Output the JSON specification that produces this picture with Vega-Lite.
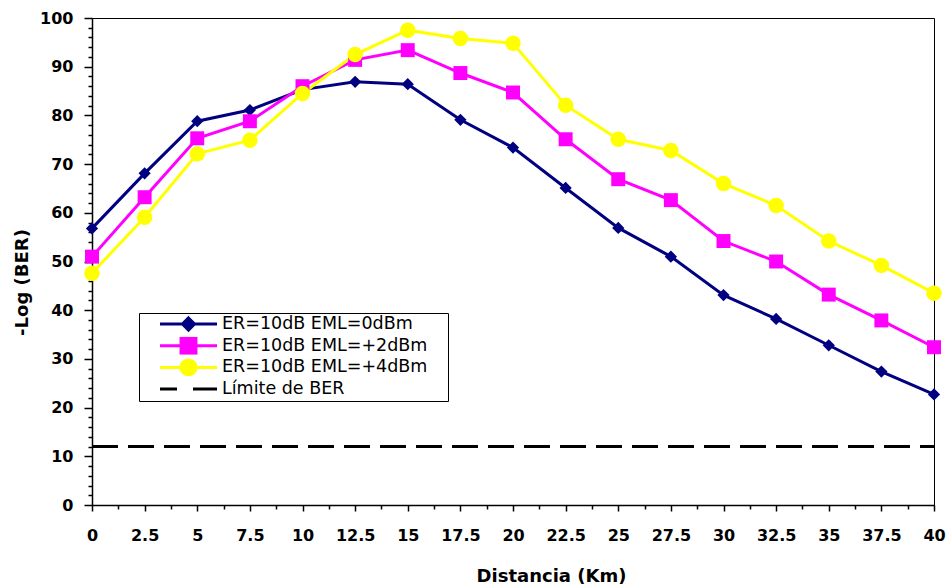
{
  "$schema": "https://vega.github.io/schema/vega-lite/v6.json",
  "width": 842,
  "height": 487,
  "autosize": {"type": "none"},
  "padding": {"left": 92, "top": 18, "right": 16, "bottom": 81},
  "background": "white",
  "config": {
    "view": {"stroke": "black", "strokeWidth": 1},
    "font": "DejaVu Sans"
  },
  "datasets": {
    "series": [
      {"s": "ER=10dB EML=0dBm", "x": 0, "y": 56.8},
      {"s": "ER=10dB EML=0dBm", "x": 2.5, "y": 68.1},
      {"s": "ER=10dB EML=0dBm", "x": 5, "y": 78.8},
      {"s": "ER=10dB EML=0dBm", "x": 7.5, "y": 81.1},
      {"s": "ER=10dB EML=0dBm", "x": 10, "y": 85.3},
      {"s": "ER=10dB EML=0dBm", "x": 12.5, "y": 86.9},
      {"s": "ER=10dB EML=0dBm", "x": 15, "y": 86.4},
      {"s": "ER=10dB EML=0dBm", "x": 17.5, "y": 79.1},
      {"s": "ER=10dB EML=0dBm", "x": 20, "y": 73.4},
      {"s": "ER=10dB EML=0dBm", "x": 22.5, "y": 65.1},
      {"s": "ER=10dB EML=0dBm", "x": 25, "y": 56.9},
      {"s": "ER=10dB EML=0dBm", "x": 27.5, "y": 51.0},
      {"s": "ER=10dB EML=0dBm", "x": 30, "y": 43.1},
      {"s": "ER=10dB EML=0dBm", "x": 32.5, "y": 38.2},
      {"s": "ER=10dB EML=0dBm", "x": 35, "y": 32.8},
      {"s": "ER=10dB EML=0dBm", "x": 37.5, "y": 27.4},
      {"s": "ER=10dB EML=0dBm", "x": 40, "y": 22.7},
      {"s": "ER=10dB EML=+2dBm", "x": 0, "y": 51.0},
      {"s": "ER=10dB EML=+2dBm", "x": 2.5, "y": 63.2},
      {"s": "ER=10dB EML=+2dBm", "x": 5, "y": 75.3},
      {"s": "ER=10dB EML=+2dBm", "x": 7.5, "y": 78.8},
      {"s": "ER=10dB EML=+2dBm", "x": 10, "y": 86.0},
      {"s": "ER=10dB EML=+2dBm", "x": 12.5, "y": 91.4},
      {"s": "ER=10dB EML=+2dBm", "x": 15, "y": 93.4},
      {"s": "ER=10dB EML=+2dBm", "x": 17.5, "y": 88.7},
      {"s": "ER=10dB EML=+2dBm", "x": 20, "y": 84.7},
      {"s": "ER=10dB EML=+2dBm", "x": 22.5, "y": 75.1},
      {"s": "ER=10dB EML=+2dBm", "x": 25, "y": 66.9},
      {"s": "ER=10dB EML=+2dBm", "x": 27.5, "y": 62.6},
      {"s": "ER=10dB EML=+2dBm", "x": 30, "y": 54.2},
      {"s": "ER=10dB EML=+2dBm", "x": 32.5, "y": 50.0},
      {"s": "ER=10dB EML=+2dBm", "x": 35, "y": 43.2},
      {"s": "ER=10dB EML=+2dBm", "x": 37.5, "y": 37.9},
      {"s": "ER=10dB EML=+2dBm", "x": 40, "y": 32.4},
      {"s": "ER=10dB EML=+4dBm", "x": 0, "y": 47.6},
      {"s": "ER=10dB EML=+4dBm", "x": 2.5, "y": 59.1},
      {"s": "ER=10dB EML=+4dBm", "x": 5, "y": 72.1},
      {"s": "ER=10dB EML=+4dBm", "x": 7.5, "y": 74.9},
      {"s": "ER=10dB EML=+4dBm", "x": 10, "y": 84.5},
      {"s": "ER=10dB EML=+4dBm", "x": 12.5, "y": 92.5},
      {"s": "ER=10dB EML=+4dBm", "x": 15, "y": 97.5},
      {"s": "ER=10dB EML=+4dBm", "x": 17.5, "y": 95.8},
      {"s": "ER=10dB EML=+4dBm", "x": 20, "y": 94.8},
      {"s": "ER=10dB EML=+4dBm", "x": 22.5, "y": 82.1},
      {"s": "ER=10dB EML=+4dBm", "x": 25, "y": 75.1},
      {"s": "ER=10dB EML=+4dBm", "x": 27.5, "y": 72.8},
      {"s": "ER=10dB EML=+4dBm", "x": 30, "y": 66.0},
      {"s": "ER=10dB EML=+4dBm", "x": 32.5, "y": 61.5},
      {"s": "ER=10dB EML=+4dBm", "x": 35, "y": 54.2},
      {"s": "ER=10dB EML=+4dBm", "x": 37.5, "y": 49.2},
      {"s": "ER=10dB EML=+4dBm", "x": 40, "y": 43.5}
    ],
    "limit": [
      {"s": "Límite de BER", "x": 0, "y": 12},
      {"s": "Límite de BER", "x": 40, "y": 12}
    ]
  },
  "encoding": {
    "x": {
      "field": "x", "type": "quantitative",
      "scale": {"domain": [0, 40], "nice": false, "zero": false},
      "axis": {
        "title": "Distancia (Km)",
        "values": [0,1.25,2.5,3.75,5,6.25,7.5,8.75,10,11.25,12.5,13.75,15,16.25,17.5,18.75,20,21.25,22.5,23.75,25,26.25,27.5,28.75,30,31.25,32.5,33.75,35,36.25,37.5,38.75,40],
        "labelExpr": "datum.value % 2.5 === 0 ? format(datum.value, '~g') : ''",
        "grid": false,
        "domainColor": "black", "domainWidth": 1.5,
        "tickColor": "black", "tickWidth": 1.5,
        "tickSize": {"condition": {"test": "datum.value % 2.5 === 0", "value": 6}, "value": 4},
        "labelFont": "DejaVu Sans", "labelFontWeight": "bold", "labelFontSize": 16, "labelColor": "black",
        "labelPadding": 16, "labelFlush": false, "labelOverlap": false,
        "titleFont": "DejaVu Sans", "titleFontWeight": "bold", "titleFontSize": 18, "titleColor": "black",
        "titlePadding": 24, "titleX": 459
      }
    },
    "y": {
      "field": "y", "type": "quantitative",
      "scale": {"domain": [0, 100], "nice": false},
      "axis": {
        "title": "-Log (BER)",
        "values": [0,2,4,6,8,10,12,14,16,18,20,22,24,26,28,30,32,34,36,38,40,42,44,46,48,50,52,54,56,58,60,62,64,66,68,70,72,74,76,78,80,82,84,86,88,90,92,94,96,98,100],
        "labelExpr": "datum.value % 10 === 0 ? datum.label : ''",
        "grid": false,
        "domainColor": "black", "domainWidth": 1.5,
        "tickColor": "black", "tickWidth": 1.5,
        "tickSize": {"condition": {"test": "datum.value % 10 === 0", "value": 8}, "value": 4},
        "labelFont": "DejaVu Sans", "labelFontWeight": "bold", "labelFontSize": 16, "labelColor": "black",
        "labelPadding": 11, "labelOverlap": false,
        "titleFont": "DejaVu Sans", "titleFontWeight": "bold", "titleFontSize": 18, "titleColor": "black",
        "titleX": -61, "titleY": 264
      }
    },
    "color": {
      "field": "s", "type": "nominal",
      "scale": {
        "domain": ["ER=10dB EML=0dBm", "ER=10dB EML=+2dBm", "ER=10dB EML=+4dBm", "Límite de BER"],
        "range": ["#000080", "#FF00FF", "#FFFF00", "#000000"]
      },
      "legend": {
        "title": null,
        "orient": "none",
        "legendX": 47,
        "legendY": 295,
        "direction": "vertical",
        "padding": 2,
        "strokeColor": "black",
        "fillColor": "white",
        "symbolType": "M-3.17,0H3.17",
        "symbolSize": 324,
        "symbolStrokeWidth": 3,
        "symbolOffset": 37,
        "symbolDash": [],
        "labelFont": "DejaVu Sans",
        "labelFontSize": 17.5,
        "labelColor": "black",
        "labelOffset": 23,
        "labelLimit": 400,
        "labelExpr": "datum.label + ' \u2800'",
        "clipHeight": 18,
        "rowPadding": 3.7,
        "encode": {
          "symbols": {
            "update": {
              "shape": {"signal": "datum.value === 'ER=10dB EML=0dBm' ? 'M-3.17,0H3.17M0,-0.67L0.67,0L0,0.67L-0.67,0Z' : datum.value === 'ER=10dB EML=+2dBm' ? 'M-3.17,0H3.17M-0.83,-0.83H0.83V0.83H-0.83Z' : datum.value === 'ER=10dB EML=+4dBm' ? 'M-3.17,0H3.17M0.83,0A0.83,0.83,0,1,1,-0.83,0A0.83,0.83,0,1,1,0.83,0Z' : 'M-3.17,0H-1.28M0.5,0H3.17'"},
              "fill": {"scale": "color", "field": "value"},
              "stroke": {"scale": "color", "field": "value"},
              "fillOpacity": {"value": 1},
              "strokeOpacity": {"value": 1},
              "strokeWidth": {"value": 3},
              "strokeDash": {"value": []}
            }
          }
        }
      }
    }
  },
  "layer": [
    {
      "data": {"name": "limit"},
      "mark": {"type": "line", "strokeDash": [26, 10], "strokeWidth": 3}
    },
    {
      "data": {"name": "series"},
      "mark": {"type": "line"},
      "encoding": {
        "strokeWidth": {
          "field": "s", "type": "nominal",
          "scale": {"domain": ["ER=10dB EML=0dBm", "ER=10dB EML=+2dBm", "ER=10dB EML=+4dBm"], "range": [3, 3, 4]},
          "legend": null
        }
      }
    },
    {
      "data": {"name": "series"},
      "mark": {"type": "point", "filled": true, "opacity": 1},
      "encoding": {
        "shape": {
          "field": "s", "type": "nominal",
          "scale": {"domain": ["ER=10dB EML=0dBm", "ER=10dB EML=+2dBm", "ER=10dB EML=+4dBm"], "range": ["diamond", "square", "circle"]},
          "legend": null
        },
        "size": {
          "field": "s", "type": "nominal",
          "scale": {"domain": ["ER=10dB EML=0dBm", "ER=10dB EML=+2dBm", "ER=10dB EML=+4dBm"], "range": [150, 240, 260]},
          "legend": null
        }
      }
    }
  ]
}
